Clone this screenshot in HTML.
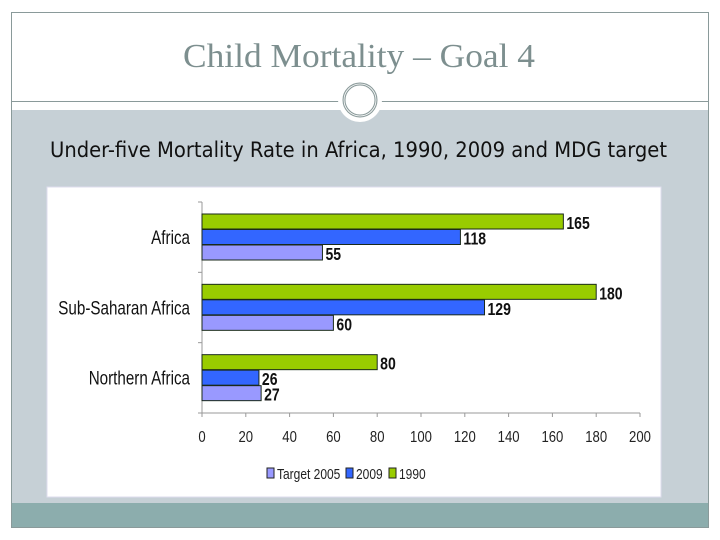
<!DOCTYPE html>
<html><head><meta charset="utf-8"><style>
body{margin:0;width:720px;height:540px;background:#fff;overflow:hidden}
svg{display:block}
.t{font-family:"Liberation Sans Narrow","Liberation Sans",sans-serif}
</style></head><body>
<svg id="s" width="720" height="540" viewBox="0 0 720 540">
<rect x="11.5" y="12.5" width="697" height="515" fill="#fff" stroke="#8a9a9a"/>
<rect x="12" y="110" width="696" height="394" fill="#c6d0d6"/>
<rect x="12" y="503" width="696" height="24" fill="#8cadad"/>
<line x1="12" y1="101.5" x2="708" y2="101.5" stroke="#8a9a9a"/>
<circle cx="360" cy="100" r="22" fill="#fff"/>
<circle cx="360" cy="100" r="16" fill="none" stroke="#8a9a9a" stroke-width="3"/>
<circle cx="360" cy="100" r="16" fill="none" stroke="#fff" stroke-width="0.8"/>
<text x="183" y="67" textLength="352" lengthAdjust="spacingAndGlyphs" font-family="'Liberation Serif',serif" font-size="34" fill="#7d8f8f">Child Mortality – Goal 4</text>
<text x="50" y="157" textLength="617" lengthAdjust="spacingAndGlyphs" font-family="'DejaVu Sans Condensed','Liberation Sans',sans-serif" font-size="21" fill="#111">Under-five Mortality Rate in Africa, 1990, 2009 and MDG target</text>
<rect x="47" y="187" width="614" height="310" fill="#fff" stroke="#dde"/>
<g id="chart"></g>
</svg>
<script>
const categories=["Africa","Sub-Saharan Africa","Northern Africa"];
const seriesNames=["1990","2009","Target 2005"];
const values1990=[165,180,80];
const values2009=[118,129,26];
const valuesTarget=[55,60,27];
const xTicks=[0,20,40,60,80,100,120,140,160,180,200];
const colors=["#99cc00","#3366ff","#9999ff"];
const NS="http://www.w3.org/2000/svg";
const g=document.getElementById('chart');
const x0=202,x1=640,yTop=202,yBot=413,xMax=200;
const xs=v=>x0+v/xMax*(x1-x0);
const band=(yBot-yTop)/categories.length;
function mk(tag,attrs,parent){const e=document.createElementNS(NS,tag);for(const k in attrs)e.setAttribute(k,attrs[k]);(parent||g).appendChild(e);return e;}
let ax=mk('line',{x1:x0,y1:yTop,x2:x0,y2:yBot,stroke:'#999'});


let bx=mk('line',{x1:x0,y1:yBot,x2:x1,y2:yBot,stroke:'#999'});


for(let i=0;i<=categories.length;i++){
  let tk=mk('line',{x1:x0-4,y1:yTop+i*band,x2:x0,y2:yTop+i*band,stroke:'#999'});
  
  
}
xTicks.forEach(v=>{
  let tk=mk('line',{x1:xs(v),y1:yBot,x2:xs(v),y2:yBot+4,stroke:'#999'});
  
  
  let t=mk('text',{x:xs(v),y:yBot+29,'text-anchor':'middle','font-size':'16',class:'t',fill:'#222',transform:`translate(${xs(v)},0) scale(0.82,1) translate(${-xs(v)},0)`});
  t.textContent=v;
  
  
});
const all=[values1990,values2009,valuesTarget];
categories.forEach((c,i)=>{
  const by=yTop+i*band+12;
  let lab=mk('text',{x:190,y:by+30,'text-anchor':'end','font-size':'19',class:'t',fill:'#111',transform:`translate(190,0) scale(0.8,1) translate(-190,0)`});
  lab.textContent=c;
  
  
  all.forEach((arr,j)=>{
    const y=by+j*15.5,v=arr[i];
    let r=mk('rect',{x:x0,y:y,width:xs(v)-x0,height:15,fill:colors[j],stroke:'#1a2a1a','stroke-width':'1'});
    
    
    let vl=mk('text',{x:xs(v)+3,y:y+15,'font-size':'18','font-weight':'bold',class:'t',fill:'#111',transform:`translate(${xs(v)+3},0) scale(0.78,1) translate(${-(xs(v)+3)},0)`});
    vl.textContent=v;
    
    
  });
});
const leg=[["Target 2005",colors[2],267],["2009",colors[1],346],["1990",colors[0],389]];
leg.forEach(([n,c,x])=>{
  let sw=mk('rect',{x:x,y:468,width:7,height:10,fill:c,stroke:'#222'});
  
  
  let t=mk('text',{x:x+10,y:479,'font-size':'15',class:'t',fill:'#222',transform:`translate(${x+10},0) scale(0.8,1) translate(${-(x+10)},0)`});
  t.textContent=n;
  
  
});
</script>
</body></html>
